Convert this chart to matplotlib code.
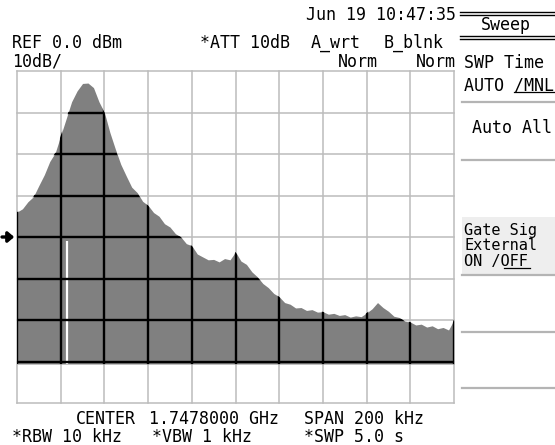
import numpy as np
import matplotlib
matplotlib.use("Agg")
import matplotlib.pyplot as plt
from matplotlib.patches import Rectangle

# ---------------- data ----------------
center_ghz = 1.7478
span_khz = 200.0
n_points = 81
ref_level_dbm = 0.0
db_per_div = 10
n_vdiv = 8
n_hdiv = 10

# measured trace (dBm) from -100 kHz to +100 kHz offset, 2.5 kHz steps
trace_db = [
    -34.0, -33.2, -31.5, -30.3, -27.6, -25.0, -21.8, -19.7, -15.6, -11.5,
    -7.4, -4.8, -3.0, -2.9, -4.0, -7.4, -10.0, -14.8, -18.8, -22.5,
    -25.3, -28.0, -29.3, -31.4, -32.4, -34.1, -35.0, -36.8, -37.6, -39.2,
    -40.0, -41.6, -42.1, -44.1, -44.8, -45.5, -45.4, -46.0, -45.2, -45.5,
    -43.6, -45.8, -46.6, -48.4, -49.6, -51.2, -52.2, -53.6, -54.4, -55.8,
    -56.2, -57.1, -57.0, -57.7, -57.5, -58.1, -58.0, -58.6, -58.4, -58.9,
    -58.7, -59.3, -59.0, -59.2, -58.3, -57.3, -55.8, -57.0, -57.9, -59.1,
    -59.4, -60.3, -60.5, -61.2, -61.0, -61.7, -61.4, -62.1, -61.8, -62.4,
    -60.0,
]
floor_db = -70.6
notch_khz = -77.0
notch_top_db = -41.0
marker_db = -40.0

header_texts = ["Jun 19 10:47:35", "REF 0.0 dBm", "*ATT 10dB", "A_wrt", "B_blnk",
                "10dB/", "Norm", "Norm"]
softkey_title = "Sweep"
softkeys = ["SWP Time", "AUTO /MNL", "Auto All", "Gate Sig", "External", "ON /OFF"]
footer_texts = ["CENTER", "1.7478000 GHz", "SPAN 200 kHz",
                "*RBW 10 kHz", "*VBW 1 kHz", "*SWP 5.0 s"]

# ---------------- figure ----------------
W, H = 555, 445
fig = plt.figure(figsize=(W / 100, H / 100), dpi=100)
fig.patch.set_facecolor("white")

ov = fig.add_axes([0, 0, 1, 1], zorder=0)
ov.set_xlim(0, W)
ov.set_ylim(H, 0)
ov.axis("off")

FONT = "DejaVu Sans Mono"
FS = 12

def t(x, y, s, fs=FS, ha="left"):
    ov.text(x, y, s, fontfamily=FONT, fontsize=fs, va="baseline", ha=ha,
            color="black")

# header
t(456, 20, header_texts[0], ha="right")
t(12, 48, header_texts[1])
t(200, 48, header_texts[2])
t(311, 48, header_texts[3])
t(384, 48, header_texts[4])
t(12, 67, header_texts[5])
t(338, 67, header_texts[6])
t(456, 67, header_texts[7], ha="right")

# footer
t(76, 424, footer_texts[0])
t(149, 424, footer_texts[1])
t(304, 424, footer_texts[2])
t(12, 442, footer_texts[3])
t(152, 442, footer_texts[4])
t(304, 442, footer_texts[5])

# softkey panel
for yy in (12, 15, 36, 39):
    ov.plot([460, 555], [yy, yy], color="black", lw=1.0)
t(506, 30, softkey_title, ha="center")
ov.add_patch(Rectangle((462, 217), 93, 58, facecolor="#eeeeee", edgecolor="none"))
for yy in (102, 160, 275, 332, 388):
    ov.plot([462, 555], [yy, yy], color="#b4b4b4", lw=1.6)
t(464, 68, softkeys[0])
t(464, 90, softkeys[1])
ov.plot([514, 555], [92, 92], color="black", lw=0.9)
t(472, 133, softkeys[2])
t(464, 235, softkeys[3], fs=11)
t(464, 250.5, softkeys[4], fs=11)
t(464, 266, softkeys[5], fs=11)
ov.plot([504, 530], [268, 268], color="black", lw=0.9)

# ---------------- spectrum axes ----------------
ax = fig.add_axes([17 / W, (H - 403) / H, 437 / W, 332 / H], zorder=1)
ax.set_facecolor("white")
half = span_khz / 2
freq = np.linspace(-half, half, n_points)
ax.set_xlim(-half, half)
ax.set_ylim(ref_level_dbm - db_per_div * n_vdiv, ref_level_dbm)
for s in ax.spines.values():
    s.set_visible(False)
ax.set_xticks([])
ax.set_yticks([])

xg = np.linspace(-half, half, n_hdiv + 1)
yg = np.linspace(ref_level_dbm - db_per_div * n_vdiv, ref_level_dbm, n_vdiv + 1)

for x in xg:
    ax.axvline(x, color="#bcbcbc", lw=1.1, zorder=1, clip_on=False)
for y in yg:
    ax.axhline(y, color="#bcbcbc", lw=1.1, zorder=1, clip_on=False)

poly = ax.fill_between(freq, floor_db, trace_db, color="#808080", lw=0, zorder=2)
ax.vlines(notch_khz, floor_db, notch_top_db, color="white", lw=1.6, zorder=3)

clip_path = poly.get_paths()[0]
for x in xg:
    ln = ax.axvline(x, color="black", lw=1.7, zorder=4)
    ln.set_clip_path(clip_path, poly.get_transform())
for y in yg:
    ln = ax.axhline(y, color="black", lw=1.7, zorder=4)
    ln.set_clip_path(clip_path, poly.get_transform())

# reference marker arrow at left
ax.annotate("", xy=(-half, marker_db), xycoords="data",
            xytext=(-15, 0), textcoords="offset pixels",
            arrowprops=dict(arrowstyle="-|>,head_length=0.35,head_width=0.3",
                            lw=2.4, color="black", shrinkA=0, shrinkB=2),
            annotation_clip=False)

fig.savefig("out.png", dpi=100)
